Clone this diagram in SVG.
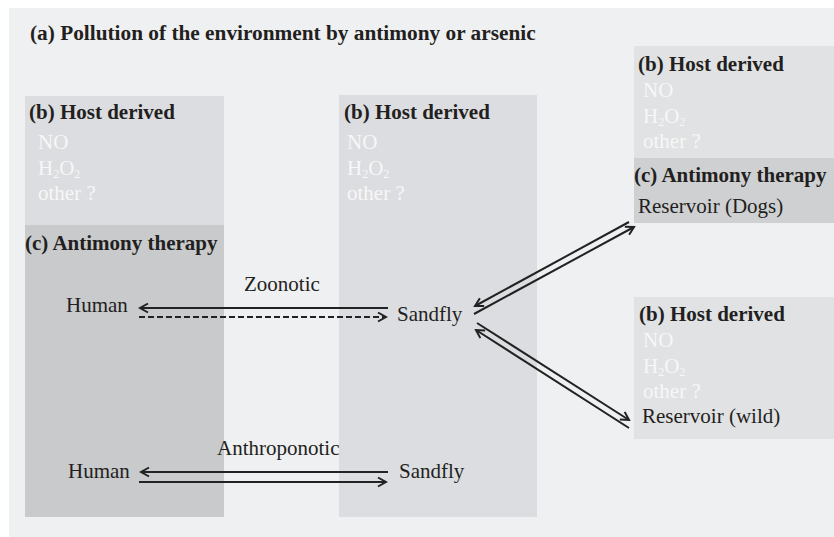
<svg xmlns="http://www.w3.org/2000/svg" width="834" height="537" viewBox="0 0 834 537">
<style>
text{font-family:"Liberation Serif","Times New Roman",serif;font-size:21px;fill:#231f20}
.b{font-weight:bold}
.t{font-size:21.3px}
.w{fill:#f7f7f7}
.sub{font-size:12px}
.host{fill:#dcdde0}
.hostr{fill:#e1e2e4}
.ther{fill:#c9cacc}
.therr{fill:#cfd0d2}
.ln{stroke:#222;stroke-width:2;fill:none}
.dash{stroke-dasharray:6 3}
</style>
<defs>
<marker id="ah" viewBox="-10 -6 12 12" markerUnits="userSpaceOnUse" markerWidth="12" markerHeight="12" refX="0" refY="0" orient="auto">
<path d="M-8,-4.5 L0,0 L-8,4.5" fill="none" stroke="#222" stroke-width="2"/>
</marker>
</defs>
<rect x="0" y="0" width="834" height="537" fill="#ffffff"/>
<rect x="9" y="8" width="825" height="529" fill="#eff0f2"/>
<g id="title"><text class="b t" x="30" y="40">(a) Pollution of the environment by antimony or arsenic</text></g>
<g id="left-column">
<rect class="host" x="25" y="96" width="199" height="129"/>
<rect class="ther" x="25" y="225" width="199" height="292"/>
<text class="b" x="29" y="119">(b) Host derived</text>
<text class="w" x="38" y="149">NO</text>
<text class="w" x="38" y="175">H<tspan class="sub" dy="3">2</tspan><tspan dy="-3">O</tspan><tspan class="sub" dy="3">2</tspan></text>
<text class="w" x="38" y="200">other ?</text>
<text class="b" x="25" y="250">(c) Antimony therapy</text>
</g>
<g id="middle-column">
<rect class="host" x="339" y="95" width="198" height="422"/>
<text class="b" x="344" y="119">(b) Host derived</text>
<text class="w" x="347" y="149">NO</text>
<text class="w" x="347" y="175">H<tspan class="sub" dy="3">2</tspan><tspan dy="-3">O</tspan><tspan class="sub" dy="3">2</tspan></text>
<text class="w" x="347" y="200">other ?</text>
</g>
<g id="reservoir-dogs">
<rect class="hostr" x="634" y="46" width="200" height="112"/>
<rect class="therr" x="634" y="158" width="200" height="65"/>
<text class="b" x="638" y="71">(b) Host derived</text>
<text class="w" x="643" y="97">NO</text>
<text class="w" x="643" y="123">H<tspan class="sub" dy="3">2</tspan><tspan dy="-3">O</tspan><tspan class="sub" dy="3">2</tspan></text>
<text class="w" x="643" y="148">other ?</text>
<text class="b" x="634" y="182">(c) Antimony therapy</text>
<text x="638" y="213">Reservoir (Dogs)</text>
</g>
<g id="reservoir-wild">
<rect class="hostr" x="634" y="297" width="200" height="142"/>
<text class="b" x="639" y="321">(b) Host derived</text>
<text class="w" x="643" y="347">NO</text>
<text class="w" x="643" y="373">H<tspan class="sub" dy="3">2</tspan><tspan dy="-3">O</tspan><tspan class="sub" dy="3">2</tspan></text>
<text class="w" x="643" y="398">other ?</text>
<text x="642" y="423">Reservoir (wild)</text>
</g>
<g id="human-zoonotic"><text x="66" y="312">Human</text></g>
<g id="sandfly-zoonotic"><text x="397" y="321">Sandfly</text></g>
<g id="human-anthroponotic"><text x="68" y="478">Human</text></g>
<g id="sandfly-anthroponotic"><text x="399" y="478">Sandfly</text></g>
<g id="connectors">
<line class="ln" x1="388" y1="308" x2="140" y2="308" marker-end="url(#ah)"/>
<line class="ln dash" x1="139" y1="317" x2="386" y2="317" marker-end="url(#ah)"/>
<text x="244" y="291">Zoonotic</text>
<line class="ln" x1="388" y1="472" x2="141" y2="472" marker-end="url(#ah)"/>
<line class="ln" x1="139" y1="482" x2="386" y2="482" marker-end="url(#ah)"/>
<text x="217" y="455">Anthroponotic</text>
<line class="ln" x1="629" y1="222" x2="475" y2="306" marker-end="url(#ah)"/>
<line class="ln" x1="474" y1="314" x2="634" y2="227" marker-end="url(#ah)"/>
<line class="ln" x1="477" y1="323" x2="629" y2="420" marker-end="url(#ah)"/>
<line class="ln" x1="629" y1="428" x2="476" y2="330" marker-end="url(#ah)"/>
</g>
</svg>
